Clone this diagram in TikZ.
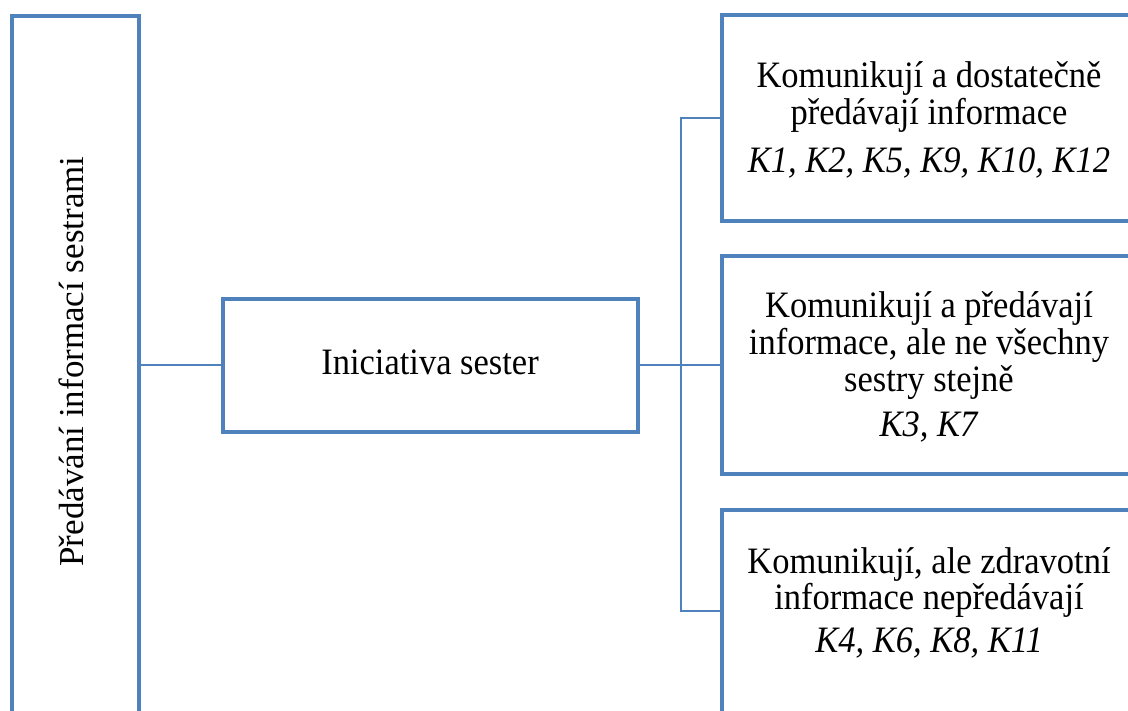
\documentclass[tikz,border=0pt]{standalone}
\usepackage{fontspec}
\setmainfont{Liberation Serif}
\usepackage{graphicx}
\definecolor{frame}{RGB}{79,129,189}
% multi-line label, slightly stretched vertically
\newcommand{\boxlabel}[1]{\scalebox{1}[1.08]{\begin{tabular}[t]{@{}c@{}}#1\end{tabular}}}
\begin{document}
\begin{tikzpicture}[x=1pt,y=-1pt,
  box/.style={draw=frame,line width=3.2pt,rectangle,inner sep=0pt,fill=white},
  link/.style={draw=frame,line width=2pt},
  lbl/.style={inner sep=0pt,anchor=base,font=\fontsize{34.5}{32.4}\selectfont}]
\useasboundingbox (0,0) rectangle (1128,711);
\clip (0,0) rectangle (1128,711);
% boxes
\node[box,minimum width=127pt,minimum height=724pt] (left) at (75.5,378) {};
\node[box,minimum width=415pt,minimum height=133pt] (mid) at (430.5,365.5) {};
\node[box,minimum width=418pt,minimum height=206pt] (r1) at (931,118) {};
\node[box,minimum width=418pt,minimum height=218pt] (r2) at (931,365) {};
\node[box,minimum width=418pt,minimum height=230pt] (r3) at (931,625) {};
% connectors
\coordinate (b1) at (681,118);
\coordinate (b3) at (681,611);
\draw[link] (mid.west) -- (mid.west -| left.east);
\draw[link] (mid.east) -- (mid.east -| r2.west);
\draw[link] (r1.west |- b1) -- (b1) -- (b3) -- (r3.west |- b3);
% labels
\node[lbl,rotate=90,font=\fontsize{35}{40}\selectfont] (tleft) at (83,361.5) {Předávání informací sestrami};
\node[lbl] (tmid) at (430,375) {\boxlabel{Iniciativa sester}};
\node[lbl] (tr1) at (929,88) {\boxlabel{Komunikují a dostatečně\\ předávají informace\\[12pt] \textit{K1, K2, K5, K9, K10, K12}}};
\node[lbl] (tr2) at (929,318) {\boxlabel{Komunikují a předávají\\ informace, ale ne všechny\\ sestry stejně\\[9pt] \textit{K3, K7}}};
\node[lbl] (tr3) at (929,573) {\boxlabel{Komunikují, ale zdravotní\\ informace nepředávají\\[7pt] \textit{K4, K6, K8, K11}}};
\end{tikzpicture}
\end{document}
